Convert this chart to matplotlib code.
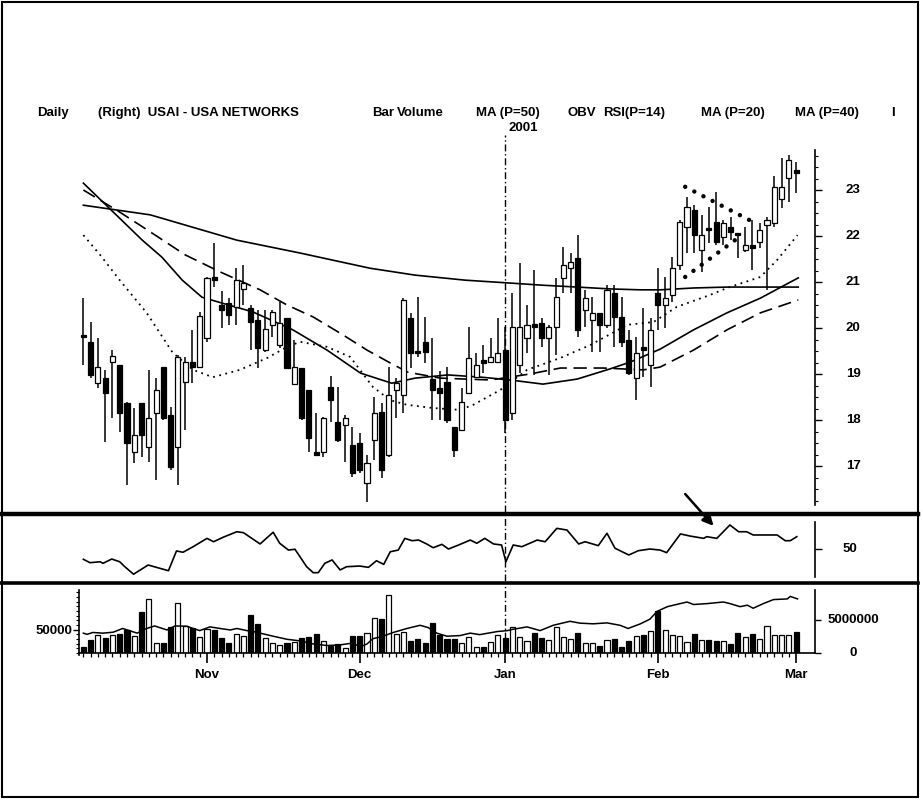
import numpy as np
import matplotlib
matplotlib.use("Agg")
import matplotlib.pyplot as plt
from matplotlib.lines import Line2D
from matplotlib.patches import Rectangle
from matplotlib.transforms import blended_transform_factory

# daily candles, 9 Oct 2000 .. 1 Mar 2001 (trading days)
opens = [19.85, 19.70, 18.80, 18.91, 19.26, 19.20, 18.37, 17.30, 18.37, 17.41,
         18.15, 19.15, 18.11, 17.41, 18.83, 19.26, 19.15, 19.78, 21.10, 20.50,
         20.54, 20.46, 20.85, 20.43, 20.17, 19.52, 20.07, 19.63, 20.22, 18.78,
         19.13, 18.65, 17.30, 17.30, 18.72, 17.96, 17.89, 17.46, 17.50, 16.63,
         17.57, 18.17, 17.24, 18.65, 18.54, 20.22, 19.48, 19.70, 18.89, 18.70,
         18.83, 17.85, 17.78, 18.59, 18.93, 19.27, 19.26, 19.26, 19.52, 18.15,
         19.20, 19.78, 20.05, 20.11, 19.78, 20.02, 21.09, 21.30, 21.52, 20.39,
         20.17, 20.33, 20.07, 20.76, 20.24, 19.74, 18.91, 19.59, 19.20, 20.76,
         20.50, 20.72, 21.37, 22.20, 22.57, 21.70, 22.17, 22.30, 21.98, 22.20,
         22.07, 21.70, 21.80, 21.87, 22.24, 22.28, 22.80, 23.26, 23.43]
highs = [20.65, 20.13, 19.78, 19.09, 19.52, 19.20, 18.40, 18.26, 18.37, 19.09,
         18.91, 19.15, 18.28, 19.41, 19.37, 19.96, 20.35, 21.11, 21.85, 20.80,
         20.65, 21.30, 21.37, 20.50, 20.39, 20.39, 20.39, 20.57, 20.22, 19.74,
         19.13, 18.65, 18.15, 18.07, 18.96, 18.72, 18.11, 17.85, 17.72, 17.24,
         18.50, 18.37, 19.15, 18.91, 20.65, 20.33, 20.67, 20.24, 19.78, 19.07,
         19.15, 17.85, 18.70, 20.02, 19.46, 19.63, 19.78, 20.22, 20.02, 20.76,
         21.41, 20.50, 21.26, 20.22, 20.07, 21.09, 21.76, 21.63, 22.02, 20.83,
         20.67, 20.33, 20.93, 20.93, 20.67, 19.96, 19.80, 20.43, 20.22, 21.30,
         21.11, 21.54, 22.35, 22.85, 22.67, 22.46, 22.63, 22.96, 22.35, 22.41,
         22.07, 22.20, 22.35, 22.28, 22.41, 23.30, 23.70, 23.76, 23.61]
lows = [19.20, 18.91, 18.70, 17.52, 18.04, 17.74, 16.59, 17.07, 17.20, 17.09,
        16.70, 18.00, 16.91, 16.59, 17.78, 18.80, 19.13, 19.70, 20.89, 20.00,
        20.07, 20.07, 20.50, 19.52, 19.13, 19.48, 19.80, 19.57, 19.10, 18.78,
        18.00, 17.30, 17.22, 17.20, 17.96, 17.52, 17.09, 16.76, 16.85, 16.22,
        17.13, 16.74, 17.20, 18.04, 18.15, 19.13, 19.37, 19.24, 18.00, 18.00,
        17.93, 17.20, 17.78, 18.59, 18.93, 19.02, 19.24, 19.26, 17.72, 18.00,
        19.02, 19.46, 18.98, 19.59, 18.98, 19.41, 20.76, 20.76, 19.80, 20.02,
        19.48, 19.48, 20.00, 19.59, 19.59, 18.98, 18.43, 18.93, 18.72, 19.96,
        20.00, 20.57, 21.26, 21.63, 21.63, 21.22, 21.85, 21.80, 21.80, 21.91,
        21.52, 21.65, 21.26, 21.74, 20.83, 22.20, 22.60, 22.74, 22.93]
closes = [19.80, 18.98, 19.15, 18.59, 19.39, 18.15, 17.50, 17.67, 17.67, 18.04,
          18.65, 18.04, 16.98, 19.37, 19.26, 19.15, 20.26, 21.09, 21.05, 20.40,
          20.28, 21.04, 20.98, 20.13, 19.57, 19.98, 20.35, 20.11, 19.13, 19.15,
          18.04, 17.61, 17.24, 18.04, 18.43, 17.57, 18.04, 16.85, 16.91, 17.07,
          18.15, 16.91, 18.54, 18.80, 20.61, 19.46, 19.46, 19.48, 18.65, 18.59,
          18.00, 17.35, 18.39, 19.35, 19.20, 19.25, 19.37, 19.46, 18.00, 20.02,
          20.02, 20.07, 20.03, 19.78, 20.02, 20.67, 21.37, 21.43, 19.96, 20.65,
          20.33, 20.07, 20.83, 20.24, 19.70, 19.02, 19.46, 19.52, 19.96, 20.50,
          20.65, 21.30, 22.30, 22.63, 22.02, 22.02, 22.13, 21.87, 22.28, 22.09,
          22.02, 21.80, 21.74, 22.13, 22.35, 23.07, 23.07, 23.65, 23.37]
volume_m = [0.96, 1.97, 2.73, 2.22, 2.73, 2.88, 3.48, 2.63, 6.16, 8.23,
            1.46, 1.46, 3.99, 7.52, 4.14, 3.84, 2.37, 3.69, 3.48, 2.32,
            1.46, 2.88, 2.63, 5.76, 4.34, 2.22, 1.46, 1.21, 1.46, 1.62,
            2.22, 2.47, 2.88, 1.82, 1.06, 1.31, 0.81, 2.63, 2.63, 2.98,
            5.35, 5.10, 8.79, 2.88, 3.23, 1.82, 2.12, 1.46, 4.49, 2.73,
            2.07, 2.07, 1.57, 2.47, 0.96, 0.96, 1.62, 2.73, 2.22, 3.89,
            2.47, 1.82, 3.08, 2.22, 1.97, 3.99, 2.47, 2.07, 3.08, 1.46,
            1.57, 1.11, 1.97, 2.07, 0.96, 1.82, 2.58, 2.73, 3.38, 6.41,
            3.48, 2.73, 2.58, 1.72, 2.88, 1.97, 1.97, 1.82, 1.87, 1.31,
            3.08, 2.47, 2.88, 2.07, 4.14, 2.73, 2.73, 2.73, 3.13]

# moving averages (day index, price)
ma50_day = [0, 9.2, 21.1, 29.8, 39.4, 45.6, 52.5, 58.4, 63.2, 67.9, 72.4, 76.6, 79.3, 83.9, 88.5, 98.3]
ma50_val = [22.67, 22.46, 21.91, 21.63, 21.30, 21.15, 21.04, 20.98, 20.93, 20.89, 20.85, 20.83, 20.83, 20.87, 20.89, 20.89]
ma20_day = [0, 8.1, 10.8, 13.6, 16.3, 19.1, 23.3, 28.8, 33.5, 38.1, 42.4, 45.6, 50.1, 54.8, 58.7, 63.2,
            67.9, 72.4, 75.2, 79.3, 83.9, 88.5, 93.1, 98.3]
ma20_val = [23.15, 21.91, 21.54, 21.04, 20.67, 20.54, 20.35, 19.96, 19.52, 19.02, 18.80, 18.91, 18.98, 18.93,
            18.87, 18.78, 18.89, 19.11, 19.26, 19.54, 19.96, 20.33, 20.65, 21.09]
ma40_day = [0, 5.0, 9.2, 14.0, 18.8, 24.3, 28.0, 31.6, 35.7, 39.0, 42.2, 44.6, 49.1, 56.0, 61.4, 65.6,
            71.5, 77.0, 79.3, 83.9, 88.5, 93.1, 98.3]
ma40_val = [23.0, 22.52, 22.09, 21.59, 21.22, 20.83, 20.50, 20.24, 19.85, 19.52, 19.24, 19.04, 18.91, 18.87,
            19.0, 19.13, 19.13, 19.09, 19.15, 19.52, 19.96, 20.33, 20.61]
fast_day = [0, 2.3, 5.0, 8.7, 12.3, 15.1, 17.8, 21.5, 25.3, 28.0, 29.8, 33.5, 36.7, 39.8, 42.2, 44.5,
            48.1, 51.8, 53.6, 57.3, 61.0, 65.6, 69.7, 74.8, 78.4, 81.6, 86.2, 88.5, 93.1, 95.4, 98.2]
fast_val = [22.02, 21.59, 21.04, 20.33, 19.46, 19.09, 18.93, 19.09, 19.35, 19.59, 19.70, 19.59, 19.37, 18.72,
            18.43, 18.33, 18.26, 18.22, 18.33, 18.65, 19.09, 19.35, 19.63, 20.07, 20.13, 20.46, 20.72, 20.87,
            21.11, 21.48, 22.02]

# triangle drawn on the chart
tri_upper_day = [82.75, 92.4]
tri_upper_val = [23.07, 22.28]
tri_lower_day = [82.75, 89.6]
tri_lower_val = [21.11, 21.91]

rsi_day = [0, 0.9, 2.3, 2.7, 3.9, 5.0, 5.7, 6.9, 8.2, 8.9, 10.5, 11.7, 12.8, 13.7, 15.1, 17.0, 17.9, 19.2,
           21.1, 22.0, 24.3, 26.1, 27.0, 28.2, 29.1, 30.7, 31.6, 32.3, 33.2, 34.2, 35.3, 36.2, 38.0, 39.2,
           40.3, 41.3, 42.2, 43.3, 44.2, 45.2, 46.1, 47.2, 48.1, 49.3, 50.2, 51.6, 53.2, 54.1, 55.2, 56.4,
           57.5, 58.1, 59.1, 60.3, 62.4, 63.5, 65.1, 66.5, 68.1, 69.0, 70.8, 72.0, 73.1, 75.0, 76.3, 77.9,
           79.3, 80.2, 82.1, 83.4, 85.3, 85.7, 87.1, 88.9, 90.1, 91.2, 92.1, 95.4, 96.5, 97.2, 98.1]
rsi_val = [41.7, 39.1, 39.8, 38.6, 41.9, 39.8, 36.0, 30.2, 34.8, 37.3, 34.8, 32.9, 48.1, 47.1, 51.4, 57.8,
           55.2, 58.6, 62.9, 62.2, 53.5, 62.5, 54.0, 48.8, 49.4, 36.0, 31.4, 31.4, 38.6, 41.2, 33.5, 36.0,
           36.5, 35.5, 40.6, 37.8, 47.5, 48.8, 57.8, 56.0, 56.5, 53.5, 50.6, 53.2, 49.6, 52.7, 56.5, 54.0,
           57.8, 53.5, 52.7, 39.8, 52.7, 51.4, 56.5, 55.2, 65.5, 64.2, 53.5, 55.2, 52.2, 61.7, 50.2, 45.0,
           48.3, 49.6, 48.8, 46.8, 61.2, 59.6, 57.8, 59.1, 57.8, 68.1, 62.9, 62.9, 60.4, 60.4, 56.0, 56.0, 59.1]

obv_day = [0, 0.5, 1.3, 2.7, 4.1, 5.4, 7.4, 8.7, 9.8, 11.5, 12.6, 14.2, 15.1, 16.0, 17.4, 18.8, 20.2,
           21.1, 22.5, 23.3, 24.3, 26.1, 28.0, 29.8, 31.6, 33.5, 35.3, 37.1, 38.0, 39.0, 39.8, 41.2, 42.6,
           44.5, 46.3, 47.4, 48.6, 50.0, 51.8, 53.2, 54.5, 56.9, 58.3, 59.0, 61.0, 62.8, 64.6, 66.9, 68.3,
           70.1, 72.0, 73.8, 74.9, 76.6, 77.9, 78.9, 80.3, 83.0, 83.9, 85.8, 88.0, 88.9, 90.3, 91.3, 92.1,
           93.5, 94.9, 96.8, 97.2, 98.2]
obv_val = [40750, 37500, 42500, 40750, 43250, 53250, 40750, 53250, 60000, 49250, 60000, 59250, 53250,
           47500, 57500, 53250, 49250, 53250, 47500, 45000, 40750, 32500, 24250, 20000, 11750, 7500, 9250,
           14250, 3250, 11750, 25750, 32500, 42500, 53250, 61750, 55750, 40750, 32500, 34250, 40750, 36750,
           45000, 47500, 50750, 57500, 47500, 61750, 72500, 67500, 65750, 68250, 61750, 53250, 65750, 78250,
           99250, 111750, 124250, 117500, 120000, 124250, 120000, 111750, 115750, 107500, 120000, 130750,
           132500, 139250, 132500]

month_day = [17, 38, 58, 79, 98]
month_labels = ["Nov", "Dec", "Jan", "Feb", "Mar"]
price_ticks = [17, 18, 19, 20, 21, 22, 23]

W, H = 923, 800
FONT = ["Liberation Sans Narrow", "Liberation Sans", "DejaVu Sans"]
plt.rcParams["font.family"] = FONT
plt.rcParams["font.weight"] = "bold"

fig = plt.figure(figsize=(W / 100, H / 100), dpi=100)


def px_axes(x0, y0, x1, y1):
    return fig.add_axes([x0 / W, 1 - y1 / H, (x1 - x0) / W, (y1 - y0) / H])


def fig_y(y):
    return 1 - y / H


ax_p = px_axes(79, 135, 815, 512)
ax_r = px_axes(79, 516, 815, 581)
ax_v = px_axes(79, 584, 815, 653)
ax_o = ax_v.twinx()

XL = (-0.6, 100.6)
for ax in (ax_p, ax_r, ax_v, ax_o):
    ax.set_xlim(*XL)
    ax.patch.set_visible(False)
    for s in ax.spines.values():
        s.set_visible(False)
    ax.set_xticks([])
    ax.set_yticks([])

days = np.arange(len(opens))
o = np.array(opens); c = np.array(closes)
up = c >= o

# ---- price panel
ax_p.set_ylim(16.0, 24.196)
ax_p.plot(ma50_day, ma50_val, color="k", lw=1.2, zorder=2)
ax_p.plot(ma20_day, ma20_val, color="k", lw=1.2, zorder=2)
ax_p.plot(ma40_day, ma40_val, color="k", lw=1.2, dashes=(8, 4), zorder=2)
ax_p.plot(fast_day, fast_val, color="k", lw=1.3, linestyle=(0, (1, 2.5)), zorder=2)

ax_p.vlines(days, lows, highs, color="k", lw=1.1, zorder=3)
body_bot = np.minimum(o, c)
body_h = np.maximum(np.abs(c - o), 0.05)
ax_p.bar(days, body_h, bottom=body_bot, width=0.7,
         color=np.where(up, "white", "black"), edgecolor="k", linewidth=0.9, zorder=4)

for dx, dy in ((tri_upper_day, tri_upper_val), (tri_lower_day, tri_lower_val)):
    ax_p.plot(dx, dy, color="k", lw=3.2, linestyle=(0, (0.01, 2.3)),
              dash_capstyle="round", zorder=5)

ax_p.spines["right"].set_visible(True)
ax_p.spines["right"].set_bounds(16.15, 23.87)
ax_p.spines["right"].set_linewidth(1.2)
ax_p.yaxis.tick_right()
ax_p.set_yticks(price_ticks)
ax_p.set_yticks(np.arange(16.25, 23.9, 0.25), minor=True)
ax_p.tick_params(axis="y", which="major", direction="out", length=5, width=1.0, labelright=False)
ax_p.tick_params(axis="y", which="minor", direction="out", length=2.5, width=0.8)
tr_p = blended_transform_factory(ax_p.transAxes, ax_p.transData)
for t in price_ticks:
    ax_p.text(1.052, t, str(t), transform=tr_p, ha="center", va="center", fontsize=9.5)

# ---- RSI panel
ax_r.set_ylim(25, 75)
ax_r.plot(rsi_day, rsi_val, color="k", lw=1.2)
ax_r.spines["right"].set_visible(True)
ax_r.spines["right"].set_bounds(28.1, 70.4)
ax_r.spines["right"].set_linewidth(1.2)
ax_r.yaxis.tick_right()
ax_r.set_yticks([50])
ax_r.tick_params(axis="y", direction="out", length=5, width=1.0, labelright=False)
tr_r = blended_transform_factory(ax_r.transAxes, ax_r.transData)
ax_r.text(1.048, 50, "50", transform=tr_r, ha="center", va="center", fontsize=9.5)
ax_r.annotate("", xy=(86.9, 65.8), xytext=(82.5, 93.5), xycoords="data",
              arrowprops=dict(arrowstyle="-|>", color="k", lw=1.8, mutation_scale=16),
              annotation_clip=False)

# ---- volume panel
vol = np.array(volume_m) * 1e6
ax_v.set_ylim(0, 10.45e6)
ax_v.bar(days, vol, width=0.7, color=np.where(up, "white", "black"),
         edgecolor="k", linewidth=0.9)
ax_v.spines["right"].set_visible(True)
ax_v.spines["right"].set_bounds(0, 9.55e6)
ax_v.spines["right"].set_linewidth(1.2)
ax_v.yaxis.tick_right()
ax_v.set_yticks([0, 5e6])
ax_v.tick_params(axis="y", direction="out", length=4, width=1.0, labelright=False)
tr_v = blended_transform_factory(ax_v.transAxes, ax_v.transData)
ax_v.text(1.052, 5e6, "5000000", transform=tr_v, ha="center", va="center", fontsize=9.5)
ax_v.text(1.052, 0, "0", transform=tr_v, ha="center", va="center", fontsize=9.5)

ax_v.spines["bottom"].set_visible(True)
ax_v.spines["bottom"].set_linewidth(1.2)
ax_v.set_xticks(month_day)
ax_v.set_xticks(days, minor=True)
ax_v.tick_params(axis="x", which="major", direction="out", length=7, width=1.2, labelbottom=False)
ax_v.tick_params(axis="x", which="minor", direction="out", length=3, width=0.9)
tr_x = blended_transform_factory(ax_v.transData, ax_v.transAxes)
for d, lab in zip(month_day, month_labels):
    ax_v.text(d, -0.32, lab, transform=tr_x, ha="center", va="center", fontsize=9.5)

# OBV on left scale
ax_o.set_ylim(0, 172500)
ax_o.plot(obv_day, obv_val, color="k", lw=1.1)
ax_o.spines["left"].set_visible(True)
ax_o.spines["left"].set_bounds(-17500, 157500)
ax_o.spines["left"].set_linewidth(1.2)
ax_o.yaxis.tick_left()
ax_o.set_yticks([50000])
ax_o.set_yticklabels(["50000"])
ax_o.set_yticks(np.arange(-12500, 157500, 12500), minor=True)
ax_o.tick_params(axis="y", which="major", direction="out", length=4, width=1.0, labelsize=9.5, pad=1)
ax_o.tick_params(axis="y", which="minor", direction="out", length=2.5, width=0.8)

# vertical year marker at 2 Jan 2001
ax_p.axvline(58, color="k", lw=1.0, linestyle=(0, (5, 2, 1, 2)))
ax_r.axvline(58, color="k", lw=1.0, linestyle=(0, (5, 2, 1, 2)))
ax_v.axvline(58, ymax=1.0, color="k", lw=1.0, linestyle=(0, (5, 2, 1, 2)))

# panel separators and frame
for y, lw in ((514, 3.2), (582.5, 2.6)):
    fig.add_artist(Line2D([0, 918 / W], [fig_y(y), fig_y(y)], color="k", lw=lw))
fig.add_artist(Rectangle((2 / W, fig_y(797)), 916 / W, 795 / H, fill=False,
                         edgecolor="k", lw=1.5, transform=fig.transFigure))

# header
hy = fig_y(113)
for x, s in ((37, "Daily"), (98, "(Right)  USAI - USA NETWORKS"), (372, "Bar"),
             (397, "Volume"), (476, "MA (P=50)"), (568, "OBV"), (603, "RSI(P=14)"),
             (701, "MA (P=20)"), (795, "MA (P=40)"), (891, "I")):
    fig.text(x / W, hy, s, ha="left", va="center", fontsize=9.5)
fig.text(509 / W, fig_y(128), "2001", ha="left", va="center", fontsize=9.5)

fig.savefig("out.png", dpi=100, facecolor="white")
